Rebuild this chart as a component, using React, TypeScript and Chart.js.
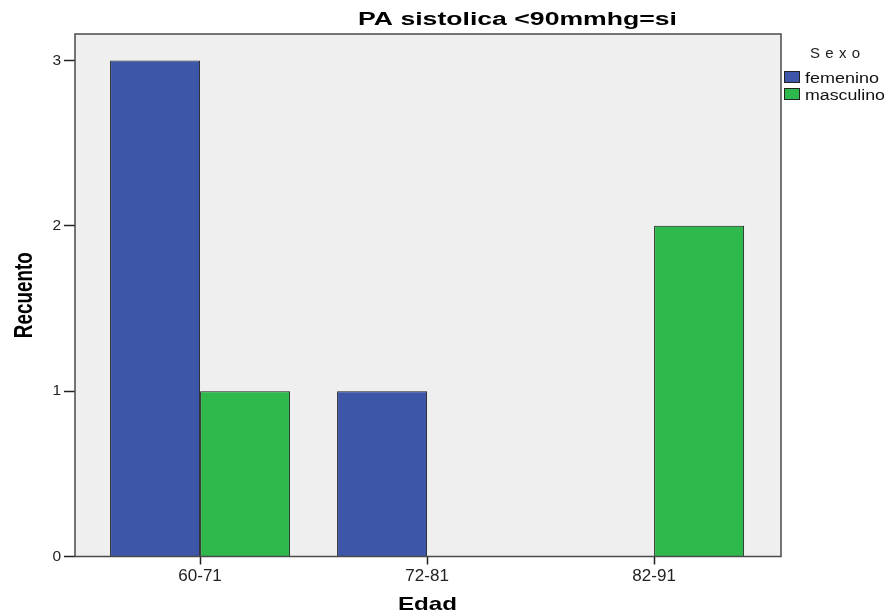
import React, { useEffect, useRef } from 'react';
import { Chart, registerables } from 'chart.js';

Chart.register(...registerables);

const categories = ['60-71', '72-81', '82-91'];
const femenino = [3, 1, 0];
const masculino = [1, 0, 2];
const yTickValues = [0, 1, 2, 3];
const seriesNames = ['femenino', 'masculino'];
const legendTitle = 'Sexo';
const chartTitle = 'PA sistolica <90mmhg=si';
const xTitle = 'Edad';
const yTitle = 'Recuento';

const FONT = '"Liberation Sans", Arial, Helvetica, sans-serif';
const BLUE = '#3d56a8';
const GREEN = '#2fb84b';

function fitText(ctx: CanvasRenderingContext2D, text: string, x: number, y: number, font: string, targetW: number, align: 'center' | 'left', rotate = false) {
  ctx.save();
  ctx.font = font;
  ctx.textBaseline = 'alphabetic';
  const w = ctx.measureText(text).width;
  const sx = targetW / w;
  ctx.translate(x, y);
  if (rotate) ctx.rotate(-Math.PI / 2);
  ctx.scale(sx, 1);
  ctx.textAlign = align;
  ctx.fillText(text, 0, 0);
  ctx.restore();
}

function spacedText(ctx: CanvasRenderingContext2D, text: string, left: number, y: number, font: string, targetW: number) {
  ctx.save();
  ctx.font = font;
  ctx.textBaseline = 'alphabetic';
  ctx.textAlign = 'left';
  const w = ctx.measureText(text).width;
  const anyCtx = ctx as any;
  if ('letterSpacing' in anyCtx && text.length > 1) {
    anyCtx.letterSpacing = ((targetW - w) / (text.length - 1)).toFixed(2) + 'px';
    ctx.fillText(text, left, y);
  } else {
    ctx.translate(left, y);
    ctx.scale(targetW / w, 1);
    ctx.fillText(text, 0, 0);
  }
  ctx.restore();
}

const decor = {
  id: 'decor',
  beforeDraw(chart: any) {
    const { ctx, chartArea: a } = chart;
    ctx.save();
    ctx.fillStyle = '#efefef';
    ctx.fillRect(a.left, a.top, a.right - a.left, a.bottom - a.top);
    ctx.restore();
  },
  afterDraw(chart: any) {
    const { ctx, chartArea: a } = chart;
    ctx.save();
    ctx.strokeStyle = '#4a4a4a';
    ctx.lineWidth = 1.5;
    ctx.strokeRect(a.left, a.top, a.right - a.left, a.bottom - a.top);
    ctx.restore();

    ctx.save();
    ctx.fillStyle = '#000';
    fitText(ctx, chartTitle, 517.5, 25, `bold 17.5px ${FONT}`, 319, 'center');
    fitText(ctx, xTitle, 398, 610, `bold 18.5px ${FONT}`, 59, 'left');
    fitText(ctx, yTitle, 32, (a.top + a.bottom) / 2, `bold 26px ${FONT}`, 86, 'center', true);

    ctx.fillStyle = '#222';
    spacedText(ctx, legendTitle, 810, 58, `15px ${FONT}`, 50);
    const ds = chart.data.datasets;
    const tw = [74, 80];
    ds.forEach((d: any, i: number) => {
      const top = 71 + i * 17;
      ctx.fillStyle = d.backgroundColor;
      ctx.fillRect(784, top, 16, 12);
      ctx.strokeStyle = '#222';
      ctx.lineWidth = 1;
      ctx.strokeRect(784.5, top + 0.5, 15, 11);
      ctx.fillStyle = '#111';
      fitText(ctx, d.label, 805, top + 12, `15.5px ${FONT}`, tw[i], 'left');
    });
    ctx.restore();
  },
};

export default function App() {
  const ref = useRef<HTMLCanvasElement | null>(null);
  useEffect(() => {
    if (!ref.current) return;
    const chart = new Chart(ref.current, {
      type: 'bar',
      data: {
        datasets: [
          {
            label: seriesNames[0],
            data: femenino.map((v, i) => ({ x: i, y: v })),
            backgroundColor: BLUE,
            borderColor: '#1e1e1e',
            borderWidth: 1,
          },
          {
            label: seriesNames[1],
            data: masculino.map((v, i) => ({ x: i, y: v })),
            backgroundColor: GREEN,
            borderColor: '#1e1e1e',
            borderWidth: 1,
          },
        ],
      },
      options: {
        animation: false,
        responsive: false,
        maintainAspectRatio: false,
        devicePixelRatio: 1,
        layout: { padding: { left: 0, right: 106, top: 34, bottom: 0 } },
        plugins: {
          legend: { display: false },
          title: { display: false },
          tooltip: { enabled: false },
        },
        datasets: {
          bar: { categoryPercentage: 0.793, barPercentage: 1, grouped: true },
        },
        scales: {
          x: {
            type: 'linear',
            min: -0.551,
            max: 2.559,
            offset: false,
            afterBuildTicks: (s: any) => {
              s.ticks = categories.map((_, i) => ({ value: i }));
            },
            afterFit: (s: any) => {
              s.height = 56.5;
            },
            ticks: {
              callback: (v: any) => categories[Math.round(Number(v))] ?? '',
              color: '#222',
              font: { family: FONT, size: 17 },
              padding: 2,
              maxRotation: 0,
              autoSkip: false,
            },
            grid: {
              offset: false,
              drawOnChartArea: false,
              drawTicks: true,
              tickLength: 8,
              tickColor: '#222',
              tickWidth: 1.5,
            },
            border: { display: false },
          },
          y: {
            type: 'linear',
            min: 0,
            max: 3.16,
            afterBuildTicks: (s: any) => {
              s.ticks = yTickValues.map((v) => ({ value: v }));
            },
            afterFit: (s: any) => {
              s.width = 75;
            },
            ticks: {
              color: '#222',
              font: { family: FONT, size: 15.5 },
              padding: 3,
            },
            grid: {
              drawOnChartArea: false,
              drawTicks: true,
              tickLength: 11,
              tickColor: '#222',
              tickWidth: 1.5,
            },
            border: { display: false },
          },
        },
      },
      plugins: [decor],
    } as any);
    return () => chart.destroy();
  }, []);
  return (
    <div style={{ position: 'fixed', left: 0, top: 0, width: 887, height: 613, background: '#fff' }}>
      <canvas ref={ref} width={887} height={613} style={{ width: 887, height: 613, display: 'block' }} />
    </div>
  );
}
